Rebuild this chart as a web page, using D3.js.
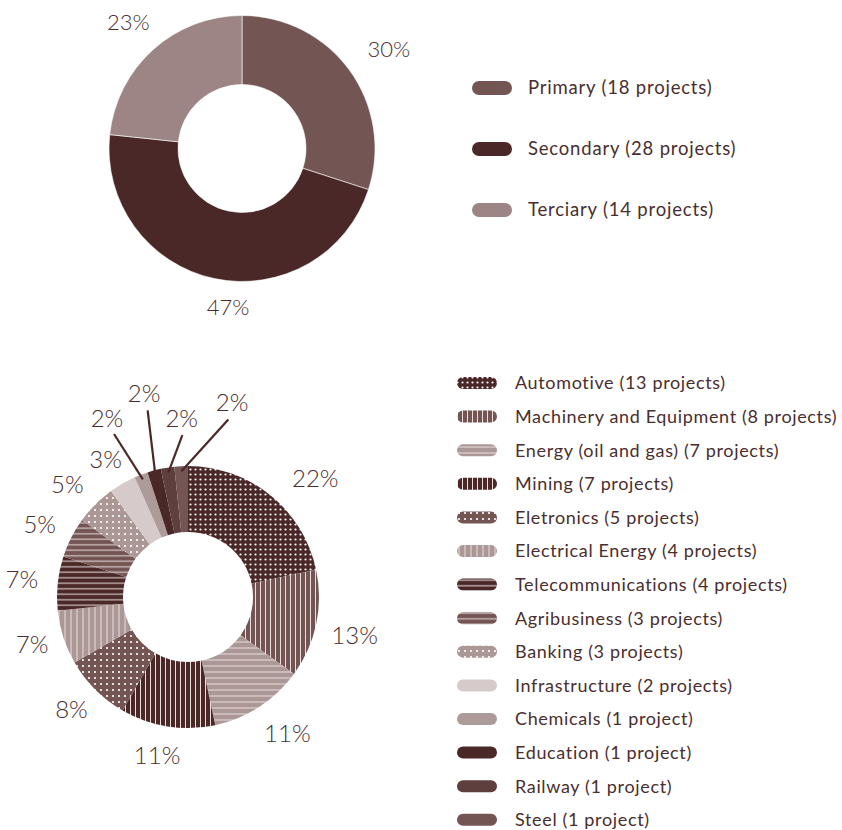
<!DOCTYPE html>
<html><head><meta charset="utf-8">
<script src="https://cdn.jsdelivr.net/npm/d3@7"></script>
<style>body{margin:0;background:#fff}svg{display:block}</style>
</head><body>
<svg id="chart" width="842" height="830"></svg>
<script>
// ---------- DATA ----------
const sectorNames = ["Primary", "Secondary", "Terciary"];
const sectorCounts = [18, 28, 14];
const sectorPercents = ["30%", "47%", "23%"];

const industryNames = ["Automotive", "Machinery and Equipment", "Energy (oil and gas)", "Mining",
  "Eletronics", "Electrical Energy", "Telecommunications", "Agribusiness", "Banking",
  "Infrastructure", "Chemicals", "Education", "Railway", "Steel"];
const industryCounts = [13, 8, 7, 7, 5, 4, 4, 3, 3, 2, 1, 1, 1, 1];
const industryPercents = ["22%", "13%", "11%", "11%", "8%", "7%", "7%", "5%", "5%", "3%", "2%", "2%", "2%", "2%"];

// ---------- STYLE / LAYOUT ----------
const DARK = "#4b2828", MID = "#735553", LIGHT = "#ab9896";
const TEXT = "#4a2e2e";
const sectorColors = ["#735553", "#4b2828", "#9c8584"];
const industryFills = [
  {bg: DARK, type: "dots", s: 5},
  {bg: MID, type: "v", s: 5},
  {bg: LIGHT, type: "h", s: 6},
  {bg: DARK, type: "v", s: 5},
  {bg: MID, type: "dots", s: 6},
  {bg: LIGHT, type: "v", s: 6},
  {bg: DARK, type: "h", s: 5.5},
  {bg: MID, type: "h", s: 5.5},
  {bg: LIGHT, type: "dots", s: 6},
  {bg: "#d6caca", type: "solid"},
  {bg: "#ad9b99", type: "solid"},
  {bg: "#4b2828", type: "solid"},
  {bg: "#5f3e3e", type: "solid"},
  {bg: "#735553", type: "solid"}
];
// label placement: angle shift (deg) from slice mid, radius
const sectorLabelLayout = [[2, 177], [-7, 159], [0, 170]];
const industryLabelLayout = [[8, 174], [1, 171], [-3, 169], [2, 162], [1, 162], [1, 163], [0, 167], [-1, 165], [-2, 165], [-1, 160],
  [-3.4, 196], [2.8, 208], [7, 179], [15.8, 199]];
const calloutFrom = 10; // index from which leader lines are drawn

const svg = d3.select("#chart");
const defs = svg.append("defs");
const fontFam = "Lato, 'Open Sans', sans-serif";

industryFills.forEach((f, i) => {
  if (f.type === "solid") return;
  const p = defs.append("pattern").attr("id", "pat" + i).attr("patternUnits", "userSpaceOnUse")
    .attr("width", f.s).attr("height", f.s);
  p.append("rect").attr("width", f.s).attr("height", f.s).attr("fill", f.bg);
  if (f.type === "dots") {
    p.append("circle").attr("cx", f.s / 2).attr("cy", f.s / 2).attr("r", 1.1).attr("fill", "#ffffff");
  } else if (f.type === "v") {
    p.append("rect").attr("x", f.s / 2 - 0.5).attr("y", 0).attr("width", 1).attr("height", f.s).attr("fill", "#eadede");
  } else if (f.type === "h") {
    p.append("rect").attr("x", 0).attr("y", f.s / 2 - 0.5).attr("width", f.s).attr("height", 1).attr("fill", "#eadede");
  }
});
const fillOf = i => industryFills[i].type === "solid" ? industryFills[i].bg : `url(#pat${i})`;

const pie = d3.pie().sort(null).value(d => d);
const toRad = d => d * Math.PI / 180;
const polar = (cx, cy, ang, r) => [cx + r * Math.sin(ang), cy - r * Math.cos(ang)];

// ---------- TOP DONUT ----------
const topG = {cx: 242, cy: 148.5, r0: 64, r1: 133};
const topArcs = pie(sectorCounts);
const arcTop = d3.arc().innerRadius(topG.r0).outerRadius(topG.r1);
const gTop = svg.append("g").attr("transform", `translate(${topG.cx},${topG.cy})`);
gTop.selectAll("path").data(topArcs).join("path")
  .attr("d", arcTop).attr("fill", (d, i) => sectorColors[i])
  .attr("stroke", "#ffffff").attr("stroke-width", 0.6);
topArcs.forEach((a, i) => {
  const mid = (a.startAngle + a.endAngle) / 2 + toRad(sectorLabelLayout[i][0]);
  const [x, y] = polar(topG.cx, topG.cy, mid, sectorLabelLayout[i][1]);
  svg.append("text").attr("x", x).attr("y", y).attr("text-anchor", "middle").attr("dy", "0.35em")
    .attr("font-family", fontFam).attr("font-weight", 300).attr("font-size", 22).attr("fill", TEXT)
    .text(sectorPercents[i]);
});
// top legend
const legTop = svg.append("g");
sectorNames.forEach((n, i) => {
  const cy = 88 + i * 61;
  legTop.append("rect").attr("x", 472).attr("y", cy - 7).attr("width", 40).attr("height", 14)
    .attr("rx", 7).attr("fill", sectorColors[i]);
  legTop.append("text").attr("x", 528).attr("y", cy).attr("dy", "0.35em")
    .attr("font-family", fontFam).attr("font-size", 18.5).attr("fill", TEXT)
    .attr("letter-spacing", 0.8)
    .text(`${n} (${sectorCounts[i]} projects)`);
});

// ---------- BOTTOM DONUT ----------
const botG = {cx: 188, cy: 597, r0: 65, r1: 131};
const botArcs = pie(industryCounts);
const arcBot = d3.arc().innerRadius(botG.r0).outerRadius(botG.r1);
const gBot = svg.append("g").attr("transform", `translate(${botG.cx},${botG.cy})`);
gBot.selectAll("path").data(botArcs).join("path")
  .attr("d", arcBot).attr("fill", (d, i) => fillOf(i));

botArcs.forEach((a, i) => {
  const midSlice = (a.startAngle + a.endAngle) / 2;
  const ang = midSlice + toRad(industryLabelLayout[i][0]);
  const R = industryLabelLayout[i][1];
  const [x, y] = polar(botG.cx, botG.cy, ang, R);
  if (i >= calloutFrom) {
    const [x1, y1] = polar(botG.cx, botG.cy, ang, R - 17);
    const [x2, y2] = polar(botG.cx, botG.cy, midSlice, 126);
    svg.append("line").attr("x1", x1).attr("y1", y1).attr("x2", x2).attr("y2", y2)
      .attr("stroke", DARK).attr("stroke-width", 2.2);
  }
  svg.append("text").attr("x", x).attr("y", y).attr("text-anchor", "middle").attr("dy", "0.35em")
    .attr("font-family", fontFam).attr("font-weight", 300).attr("font-size", 24).attr("fill", TEXT)
    .text(industryPercents[i]);
});

// bottom legend
const legBot = svg.append("g");
industryNames.forEach((n, i) => {
  const cy = 383 + i * 33.6;
  legBot.append("rect").attr("x", 457).attr("y", cy - 6).attr("width", 40).attr("height", 12)
    .attr("rx", 6).attr("fill", fillOf(i));
  const c = industryCounts[i];
  legBot.append("text").attr("x", 515).attr("y", cy).attr("dy", "0.35em")
    .attr("font-family", fontFam).attr("font-size", 18).attr("fill", TEXT)
    .attr("letter-spacing", 0.65)
    .text(`${n} (${c} project${c > 1 ? "s" : ""})`);
});
</script>
</body></html>
